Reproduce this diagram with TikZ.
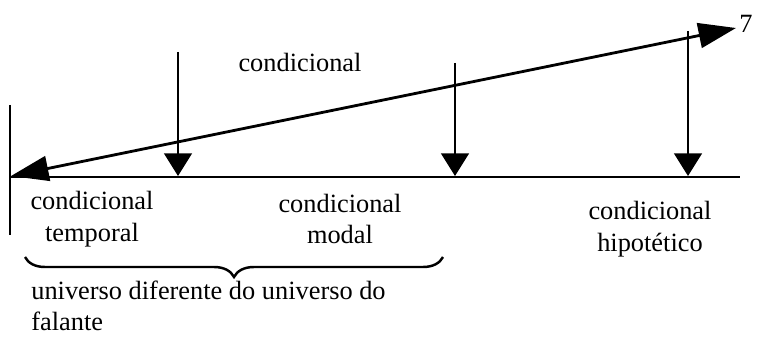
\documentclass[tikz,border=0pt]{standalone}
\usepackage{fontspec}
\setmainfont{Liberation Serif}
\usetikzlibrary{arrows.meta,decorations.pathreplacing}

\begin{document}
\begin{tikzpicture}[
      bigarrow/.style={{Triangle[length=0.75cm,width=0.5cm]}-{Triangle[length=0.75cm,width=0.5cm]},line width=1.6pt},
      pointer/.style={-{Triangle[length=0.45cm,width=0.55cm]},line width=1.4pt},
      axis/.style={line width=1pt},
      label/.style={font=\fontsize{15}{18}\selectfont,align=center,inner sep=0pt}
    ]
    \useasboundingbox (0,0) rectangle (15.24,6.78);
    % axes
    \coordinate (vtop) at (0.2,4.68);
    \coordinate (vbot) at (0.2,2.08);
    \coordinate (origin) at (0.2,3.24);
    \coordinate (axend) at (14.8,3.24);
    \draw[axis] (vtop) -- (vbot);
    \draw[axis] (origin) -- (axend);

    % long double arrow
    \coordinate (left) at (0.22,3.26);
    \coordinate (right) at (14.72,6.22);
    \draw[bigarrow] (left) -- (right);
    \node[label,anchor=west] (seven) at (14.78,6.3) {7};

    % pointers
    \coordinate (p1) at (3.56,5.74);
    \coordinate (q1) at (3.56,3.26);
    \coordinate (p2) at (9.1,5.52);
    \coordinate (q2) at (9.1,3.26);
    \coordinate (p3) at (13.76,6.16);
    \coordinate (q3) at (13.76,3.26);
    \draw[pointer] (p1) -- (q1);
    \draw[pointer] (p2) -- (q2);
    \draw[pointer] (p3) -- (q3);

    \node[label] (cond) at (6.0,5.54) {condicional};
    \node[label] (temp) at (1.84,2.4) {condicional\\temporal};
    \node[label] (modal) at (6.8,2.4) {condicional\\modal};
    \node[label] (hipo) at (13.0,2.2) {condicional\\hipotético};

    % brace
    \coordinate (bl) at (0.5,1.64);
    \coordinate (br) at (8.86,1.64);
    \draw[line width=1.4pt,decorate,decoration={brace,mirror,amplitude=0.4cm}] (bl) -- (br);
    \node[label,align=left,anchor=west] (univ) at (0.62,0.66)
      {universo diferente do universo do\\falante};
  \end{tikzpicture}
\end{document}
